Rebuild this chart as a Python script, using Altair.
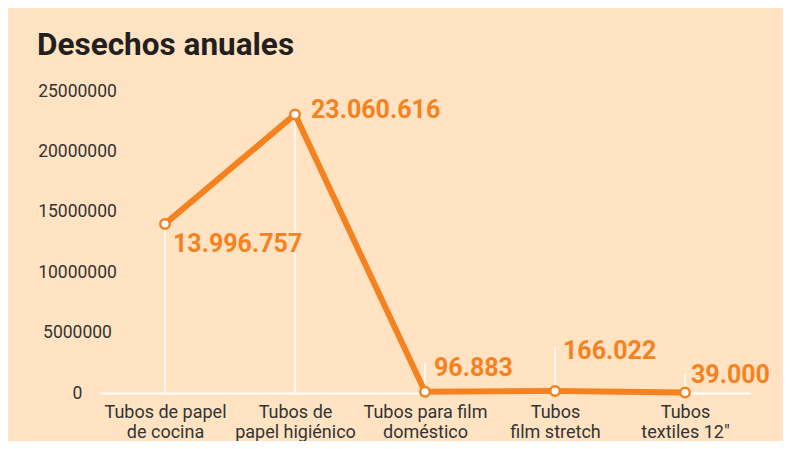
import altair as alt
import pandas as pd

# ---- data ----
line1 = ["Tubos de papel", "Tubos de", "Tubos para film", "Tubos", "Tubos"]
line2 = ["de cocina", "papel higiénico", "doméstico", "film stretch", "textiles 12\""]
values = [13996757, 23060616, 96883, 166022, 39000]
y_ticks = [0, 5000000, 10000000, 15000000, 20000000, 25000000]
title_text = "Desechos anuales"

cats = [a + "|" + b for a, b in zip(line1, line2)]
df = pd.DataFrame({
    "cat": cats,
    "value": values,
    "label": [f"{v:,}".replace(",", ".") for v in values],
})

ORANGE = "#F58220"
BG = "#FFE3C2"
TEXT = "#333333"
FONT = "Roboto"

x = alt.X("cat:N", sort=cats, scale=alt.Scale(type="point", padding=0.5),
          axis=alt.Axis(title=None, labelAngle=0, ticks=False, tickSize=0,
                        domainColor="white", domainWidth=2,
                        labelExpr="split(datum.value, '|')",
                        labelFontSize=18, labelColor=TEXT, labelFont=FONT,
                        labelPadding=10, labelLineHeight=20))
y = alt.Y("value:Q", scale=alt.Scale(domain=[0, 25000000], nice=False),
          axis=alt.Axis(title=None, values=y_ticks, format="d", grid=False,
                        domain=False, ticks=False, tickSize=0,
                        labelAlign="center", labelPadding=23,
                        labelFontSize=17.5, labelColor=TEXT, labelFont=FONT))

base = alt.Chart(df)

stems = base.mark_rule(color="white", strokeWidth=1.5).encode(
    x=x, y=y, y2=alt.Y2(datum=0))

leaders = []
for i, off in [(2, -29), (3, -44), (4, -19)]:
    leaders.append(
        base.transform_filter(alt.datum.cat == cats[i])
        .mark_rule(color="white", strokeWidth=1.5, y2Offset=off)
        .encode(x=x, y=y, y2="value:Q"))

line = base.mark_line(color=ORANGE, strokeWidth=6).encode(x=x, y=y)
pts = base.mark_point(filled=True, fill="white", stroke=ORANGE, strokeWidth=2.5,
                      size=90, opacity=1).encode(x=x, y=y)

labels = []
for i, (dx, dy) in enumerate([(8, 20), (16, -4), (9, -24), (8, -40), (6, -18)]):
    labels.append(
        base.transform_filter(alt.datum.cat == cats[i])
        .mark_text(align="left", baseline="middle", dx=dx, dy=dy,
                   font=FONT, fontWeight="bold", fontSize=25, color=ORANGE)
        .encode(x=x, y=y, text="label:N"))

chart = alt.layer(stems, *leaders, line, pts, *labels).properties(
    width=650, height=302,
    title=alt.TitleParams(title_text, anchor="start", frame="group", dx=-63,
                          offset=-4, baseline="alphabetic",
                          font=FONT, fontSize=31.5, fontWeight="bold", color="#231F20"),
    autosize=alt.AutoSizeParams(type="none"),
    padding={"left": 92, "top": 83, "right": 33, "bottom": 48},
    background=BG,
).configure_view(stroke=None)

chart.save("out.html", embed_options={"renderer": "svg", "actions": False})
